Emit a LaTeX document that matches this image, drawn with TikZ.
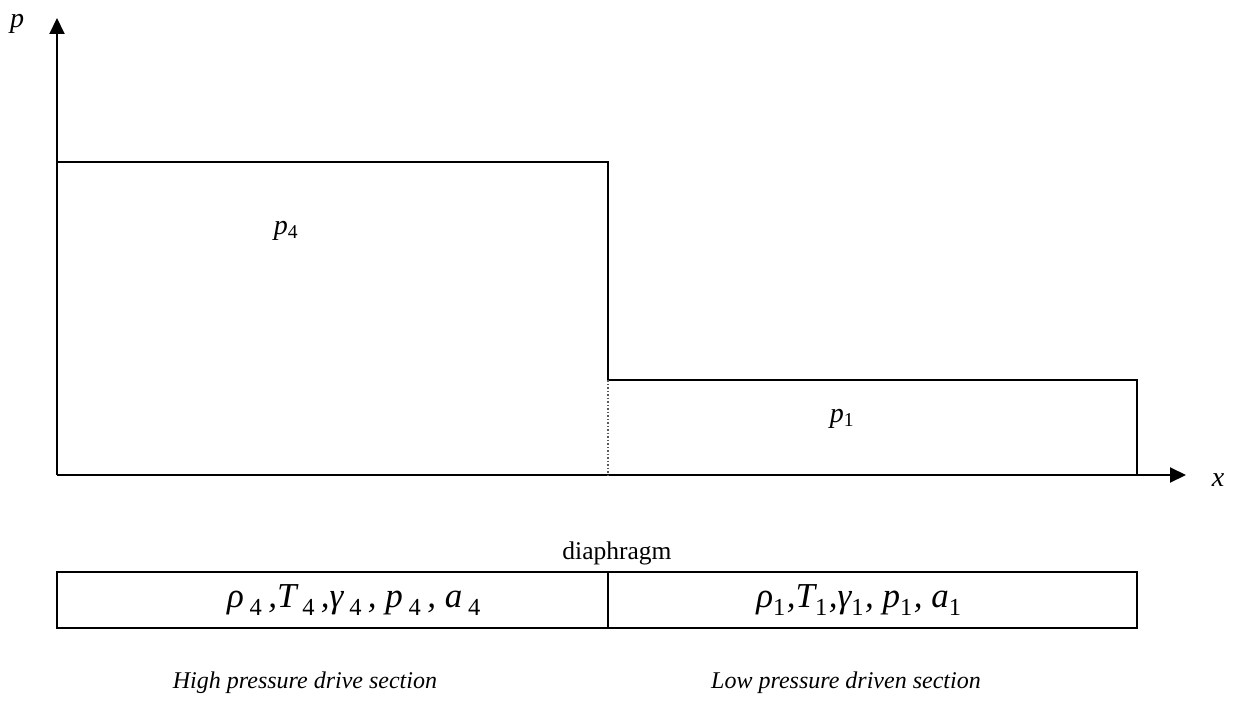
\documentclass[tikz,border=0pt]{standalone}
\usepackage{fontspec}
\setmainfont{Liberation Serif}
\usetikzlibrary{arrows.meta}
\newcommand{\sbs}[1]{\textsubscript{\textup{#1}}}
\tikzset{
  axisline/.style={line width=2pt, -{Triangle[length=16pt,width=15pt]}},
  curveline/.style={line width=2pt},
  lbl/.style={inner sep=0pt, font=\fontsize{28}{32}\selectfont\itshape},
  bigtxt/.style={inner sep=0pt, font=\fontsize{35}{40}\selectfont\itshape},
  captxt/.style={inner sep=0pt, font=\fontsize{24}{28}\selectfont\itshape},
}
\begin{document}
\begin{tikzpicture}[x=1pt,y=-1pt]
\useasboundingbox (0,0) rectangle (1242,706);
\coordinate (O) at (57,475);
\coordinate (ytip) at (57,18);
\coordinate (xtip) at (1186,475);
\coordinate (a) at (57,162);
\coordinate (b) at (608,162);
\coordinate (c) at (608,380);
\coordinate (d) at (1137,380);
\coordinate (e) at (1137,475);
\coordinate (f) at (608,475);
\draw[axisline] (O) -- (ytip);
\draw[axisline] (O) -- (xtip);
\draw[curveline] (a) -- (b) -- (c) -- (d) -- (e);
\draw[line width=1.5pt, dotted, gray!70!black] (c) -- (f);
\node[lbl] (plab) at (17,24) {p};
\node[lbl] (xlab) at (1218,480) {x};
\node[lbl] (p4) at (286,231) {p\sbs{4}};
\node[lbl] (p1) at (842,419) {p\sbs{1}};
\node[inner sep=0pt, font=\fontsize{25.5}{30}\selectfont] (dia) at (617,553) {diaphragm};
\draw[curveline] (57,572) rectangle (1137,628);
\draw[curveline] (608,572) -- (608,628);
\node[bigtxt] (left) at (354,600) {ρ\,\sbs{4}\,,T\,\sbs{4}\,,γ\,\sbs{4}\,, p\,\sbs{4}\,, a\,\sbs{4}};
\node[bigtxt] (right) at (859,600) {ρ\sbs{1}\kern1pt,T\sbs{1}\kern1pt,γ\sbs{1}\kern1pt, p\sbs{1}\kern1pt, a\sbs{1}};
\node[captxt] (hp) at (305,683) {High pressure drive section};
\node[captxt] (lp) at (846,683) {Low pressure driven section};
\end{tikzpicture}
\end{document}
